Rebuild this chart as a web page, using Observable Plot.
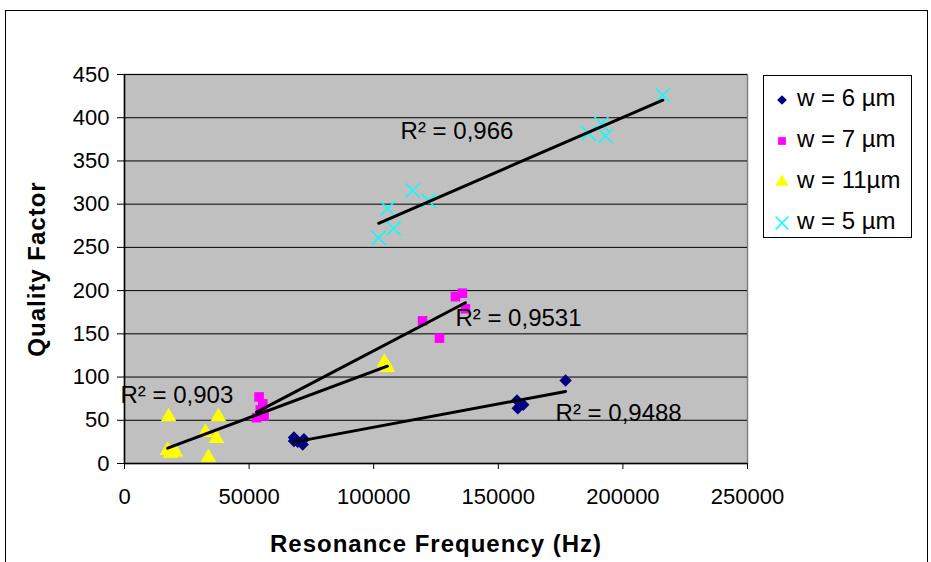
<!DOCTYPE html>
<html><head><meta charset="utf-8">
<script src="https://cdn.jsdelivr.net/npm/d3@7"></script>
<script src="https://cdn.jsdelivr.net/npm/@observablehq/plot@0.6"></script>
<style>
body{margin:0;background:#fff;font-family:"Liberation Sans",Arial,sans-serif}
#wrap{position:relative;width:931px;height:562px;overflow:hidden;background:#fff}
#frame{position:absolute;left:5px;top:10px;width:923px;height:600px;border:1px solid #000;box-sizing:border-box}
#chart{position:absolute;left:0;top:0}
#legend{position:absolute;left:763px;top:75px;width:149px;height:163px;border:1px solid #000;background:#fff;box-sizing:border-box}
.item{position:absolute;left:8px;height:26px;font-size:24px;line-height:26px;white-space:nowrap}
.item svg{position:absolute;left:0;top:0}
.item span{position:absolute;left:25px;top:0}
</style>
</head><body>
<div id="wrap"><div id="frame"></div><div id="chart"></div><div id="legend"></div></div>
<script>
// Resonance frequency (Hz), Quality factor
const w6 = [[68000,30],[69500,25],[72000,28],[71500,22],[68000,26],[157500,73],[157800,64],[160000,68],[177000,96]];
const w7 = [[54000,77],[55500,69],[54500,62],[56000,55],[53000,53],[55500,58],[135600,197],[132800,193],[136800,179],[119600,165],[126400,145]];
const w11 = [[17700,54],[37700,54],[32500,36],[36900,29],[33700,7],[17300,15],[20500,13],[18500,12],[104300,117],[105500,111]];
const w5 = [[216000,426],[186200,382],[191400,393],[193000,379],[115600,316],[122000,304],[105600,295],[108000,272],[102000,261]];

const seriesNames = ["w = 6 µm","w = 7 µm","w = 11µm","w = 5 µm"];
const seriesColors = ["#000080","#FF00FF","#FFFF00","#00FFFF"];
const seriesSymbols = ["diamond2","square","triangle","times"];

const xTicks = [0,50000,100000,150000,200000,250000];
const yTicks = [0,50,100,150,200,250,300,350,400,450];

// R² annotation labels: [x, y, text]
const r2Labels = [[110800,384,"R² = 0,966"],[132800,168,"R² = 0,9531"],[-1600,79,"R² = 0,903"],[173000,58,"R² = 0,9488"]];

const X = d => d[0], Y = d => d[1];
const dotOpts = (i, r) => seriesSymbols[i] === "times"
  ? {x:X, y:Y, symbol:"times", r, stroke:seriesColors[i], strokeWidth:1.5, fill:"none"}
  : {x:X, y:Y, symbol:seriesSymbols[i], r, fill:seriesColors[i], stroke:"none"};
const all = [w6,w7,w11,w5];
const radii = [5.6, 5.4, 5.8, 6.5];

const plot = Plot.plot({
  width:931, height:562,
  marginLeft:124, marginRight:184, marginTop:74, marginBottom:99,
  style:{fontFamily:"'Liberation Sans',Arial,sans-serif", fontSize:"20px", background:"transparent", color:"#000", overflow:"visible"},
  x:{domain:[0,250000], label:null},
  y:{domain:[0,450], label:null},
  marks:[
    Plot.frame({fill:"#C0C0C0", stroke:"#808080", strokeWidth:1.5}),
    Plot.gridY(yTicks, {stroke:"#000", strokeOpacity:1, strokeWidth:1}),
    Plot.axisX({ticks:xTicks, tickFormat:d=>String(d), tickSize:6, tickPadding:19, fontSize:22, label:null, stroke:"#000"}),
    Plot.axisY({ticks:yTicks, tickFormat:d=>String(d), tickSize:7, tickPadding:8, fontSize:22, label:null, stroke:"#000"}),
    Plot.ruleX([0], {stroke:"#000", strokeWidth:1.5}),
    Plot.ruleY([0], {stroke:"#000", strokeWidth:1.5}),
    ...all.map((s,i) => Plot.dot(s, dotOpts(i, radii[i]))),
    ...all.map(s => Plot.linearRegressionY(s, {x:X, y:Y, ci:0, stroke:"#000", strokeWidth:3})),
    Plot.text(r2Labels, {x:d=>d[0], y:d=>d[1], text:d=>d[2], textAnchor:"start", fontSize:24, fill:"#000"}),
    Plot.text(["Resonance Frequency (Hz)"], {frameAnchor:"bottom", dy:88, fontWeight:"bold", fontSize:24, fill:"#000"}),
    Plot.text(["Quality Factor"], {frameAnchor:"left", dx:-87, rotate:-90, textAnchor:"middle", fontWeight:"bold", fontSize:24, fill:"#000"})
  ]
});
// apply letter spacing to axis titles
plot.querySelectorAll("text").forEach(t => {
  if (t.textContent === "Resonance Frequency (Hz)" || t.textContent === "Quality Factor") t.setAttribute("letter-spacing", "1");
});
document.getElementById("chart").appendChild(plot);

const legend = document.getElementById("legend");
seriesNames.forEach((name,i) => {
  const div = document.createElement("div");
  div.className = "item";
  div.style.top = (9 + i*41) + "px";
  const sym = {diamond2:d3.symbolDiamond2, square:d3.symbolSquare, triangle:d3.symbolTriangle, times:d3.symbolTimes}[seriesSymbols[i]];
  const size = i===3 ? 110 : (i===2 ? 75 : 60);
  const path = d3.symbol(sym, size)();
  const st = i===3 ? `fill="none" stroke="${seriesColors[i]}" stroke-width="1.5"` : `fill="${seriesColors[i]}"`;
  div.innerHTML = `<svg width="22" height="26"><path transform="translate(10,15)" d="${path}" ${st}/></svg><span>${name}</span>`;
  legend.appendChild(div);
});
</script>
</body></html>
